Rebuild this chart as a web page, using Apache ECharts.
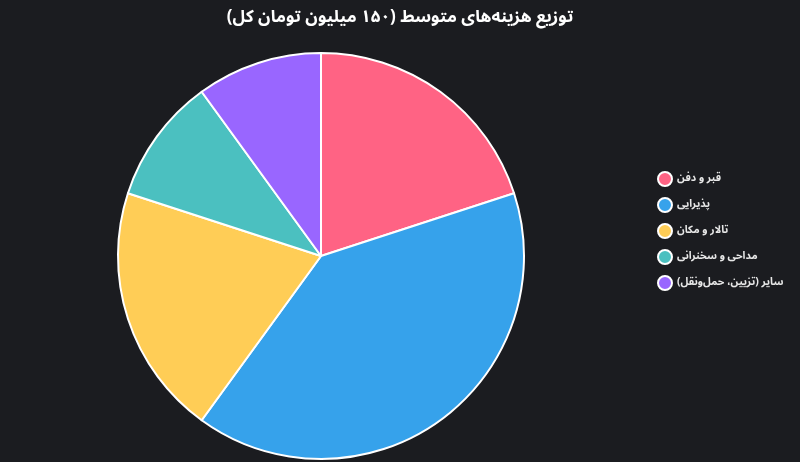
<!DOCTYPE html>
<html>
<head>
<meta charset="utf-8">
<script src="https://cdn.jsdelivr.net/npm/echarts@6/dist/echarts.min.js"></script>
<style>
  html, body { margin: 0; padding: 0; background: #1b1c20; }
  #chart { width: 800px; height: 462px; }
</style>
</head>
<body>
<div id="chart" dir="rtl"></div>
<script>
// cost breakdown, million toman
const categories = ['قبر و دفن', 'پذیرایی', 'تالار و مکان', 'مداحی و سخنرانی', 'سایر (تزیین، حمل‌ونقل)'];
const values = [30, 60, 30, 15, 15];
const colors = ['#ff6384', '#36a2eb', '#ffcd56', '#4bc0c0', '#9966ff'];

const fonts = "'Noto Sans Arabic', 'DejaVu Sans'";

const chart = echarts.init(document.getElementById('chart'));

chart.setOption({
    backgroundColor: '#1b1c20',
    animation: false,
    title: {
        text: 'توزیع هزینه‌های متوسط (۱۵۰ میلیون تومان کل)',
        left: 'center',
        top: 6,
        textStyle: { color: '#ffffff', fontSize: 17, fontWeight: 'bold', fontFamily: fonts },
    },
    legend: {
        orient: 'vertical',
        left: 652,
        top: 'middle',
        itemWidth: 14,
        itemHeight: 14,
        itemGap: 10,
        icon: 'circle',
        itemStyle: { borderColor: '#ffffff', borderWidth: 2 },
        textStyle: { color: '#e8e8e8', fontSize: 10.5, fontWeight: 'bold', fontFamily: fonts },
        data: categories,
    },
    series: [
        {
            type: 'pie',
            center: [321, 256],
            radius: 203,
            startAngle: 90,
            clockwise: true,
            label: { show: false },
            labelLine: { show: false },
            itemStyle: { borderColor: '#ffffff', borderWidth: 2 },
            emphasis: { disabled: true },
            data: categories.map((name, i) => ({
                name: name,
                value: values[i],
                itemStyle: { color: colors[i] },
            })),
        },
    ],
});
</script>
</body>
</html>
